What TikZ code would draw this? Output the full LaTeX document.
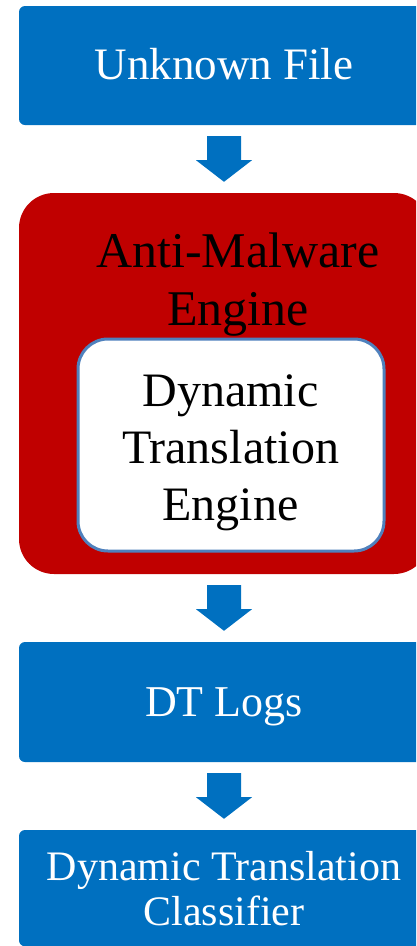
\documentclass[tikz,border=0pt]{standalone}
\usepackage{fontspec}
\setmainfont{Liberation Serif}
\usetikzlibrary{calc}
\definecolor{flowblue}{HTML}{0070C0}
\definecolor{enginered}{HTML}{C00000}
\definecolor{edgeblue}{HTML}{4F81BD}
\tikzset{
  bluebox/.style={fill=flowblue, rounded corners=6pt, minimum width=410pt, inner sep=0pt, text=white, align=center},
  redbox/.style={fill=enginered, rounded corners=35pt, minimum width=410pt, minimum height=381pt, inner sep=0pt},
  whitebox/.style={fill=white, draw=edgeblue, line width=3pt, rounded corners=30pt, minimum width=306pt, minimum height=212pt, inner sep=0pt},
  label/.style={inner sep=0pt, align=center},
  flow/.style={fill=flowblue}
}
\begin{document}
\begin{tikzpicture}[x=1pt, y=-1pt]
  \useasboundingbox (0,0) rectangle (416,946);
  \clip (0,0) rectangle (416,946);

  % boxes of the pipeline
  \node[bluebox, minimum height=119pt, text height=28pt, text depth=1pt,
        font=\fontsize{45}{54}\selectfont] (file) at (224,65.5) {Unknown File};
  \node[redbox] (am) at (224,383.5) {};
  \node[label, font=\fontsize{50}{58}\selectfont] (amtext) at (238,284.3) {Anti-Malware\\Engine};
  \node[whitebox] (dte) at (231,445) {};
  \node[label, font=\fontsize{48}{57}\selectfont] (dtetext) at (230.5,452.9) {Dynamic\\Translation\\Engine};
  \node[bluebox, minimum height=120pt, text height=29pt, text depth=1pt,
        font=\fontsize{44}{53}\selectfont] (logs) at (224,702) {DT Logs};
  \node[bluebox, minimum height=116.3pt,
        font=\fontsize{42}{45}\selectfont] (cls) at (224,888.15) {Dynamic Translation\\Classifier};

  % block arrows between the stages
  \foreach \a/\b in {file/am, am/logs, logs/cls}{
    \fill[flow] ($(\a.south)+(-17,11)$) -- ($(\a.south)+(17,11)$) -- ($(\a.south)+(17,35)$)
      -- ($(\a.south)+(28,35)$) -- ($(\a.south |- \b.north)+(0,-11)$)
      -- ($(\a.south)+(-28,35)$) -- ($(\a.south)+(-17,35)$) -- cycle;
  }
\end{tikzpicture}
\end{document}
